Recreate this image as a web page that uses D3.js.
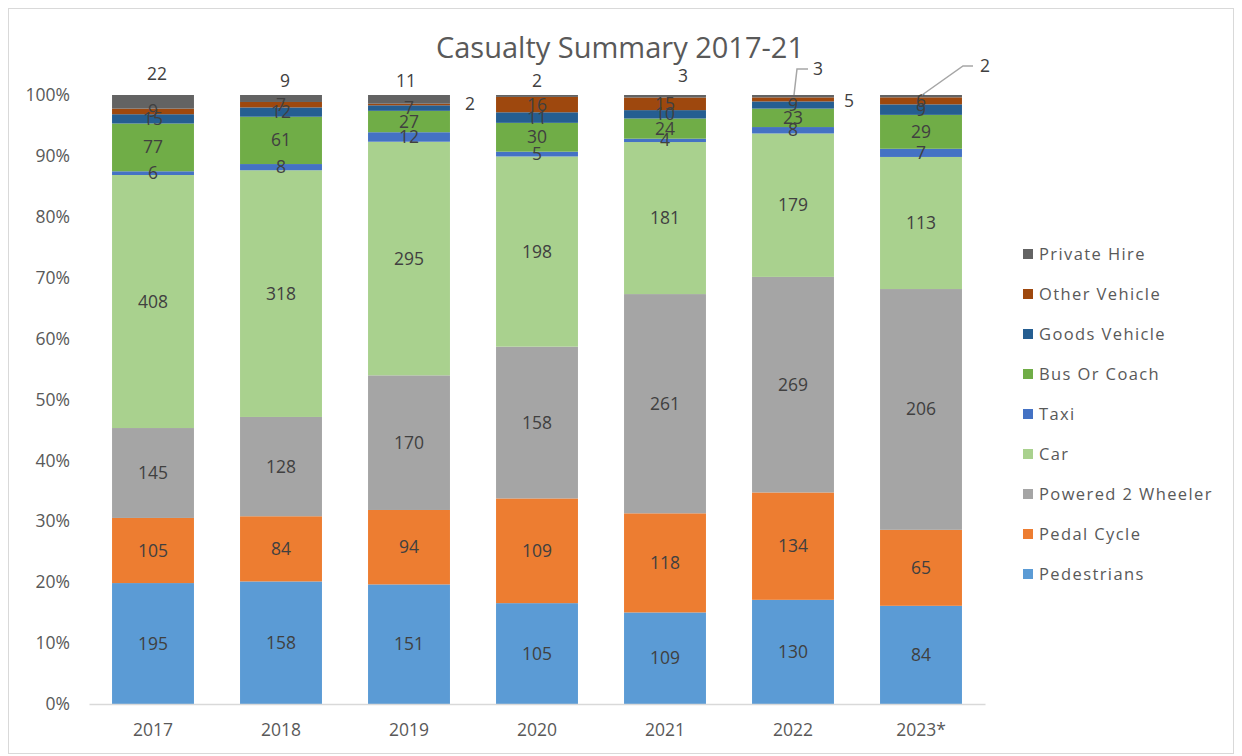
<!DOCTYPE html>
<html><head><meta charset="utf-8">
<script src="https://cdn.jsdelivr.net/npm/d3@7/dist/d3.min.js"></script>
<style>
body{margin:0;background:#fff;}
text{font-family:"Open Sans",sans-serif;}
</style></head>
<body><svg id="c" width="1242" height="756"></svg>
<script>
// ---- data ----
const years = ["2017","2018","2019","2020","2021","2022","2023*"];
const series = ["Pedestrians","Pedal Cycle","Powered 2 Wheeler","Car","Taxi","Bus Or Coach","Goods Vehicle","Other Vehicle","Private Hire"];
const pedestrians   = [195,158,151,105,109,130,84];
const pedalCycle    = [105,84,94,109,118,134,65];
const powered2      = [145,128,170,158,261,269,206];
const car           = [408,318,295,198,181,179,113];
const taxi          = [6,8,12,5,4,8,7];
const busOrCoach    = [77,61,27,30,24,23,29];
const goodsVehicle  = [15,12,7,11,10,9,9];
const otherVehicle  = [9,7,2,16,15,5,6];
const privateHire   = [22,9,11,2,3,3,2];
const yTicks = [0,0.1,0.2,0.3,0.4,0.5,0.6,0.7,0.8,0.9,1.0];

const values = [pedestrians,pedalCycle,powered2,car,taxi,busOrCoach,goodsVehicle,otherVehicle,privateHire];
const colors = ["#5B9BD5","#ED7D31","#A5A5A5","#A9D18E","#4472C4","#70AD47","#255E91","#9E480E","#636363"];

// ---- layout ----
const svg = d3.select("#c");
svg.append("rect").attr("x",8.5).attr("y",8.5).attr("width",1225).attr("height",745)
  .attr("fill","#fff").attr("stroke","#d9d9d9").attr("stroke-width",1);

const pLeft=89, pRight=985, pTop=95, pBottom=704;
const x = d3.scaleBand().domain(years).range([pLeft,pRight]).paddingInner(0.36).paddingOuter(0.18);
const y = d3.scaleLinear().domain([0,1]).range([pBottom,pTop]);

const table = years.map((yr,i)=>{const o={year:yr}; series.forEach((s,j)=>o[s]=values[j][i]); return o;});
const totals = years.map((yr,i)=>d3.sum(values,v=>v[i]));
const normTable = table.map((r,i)=>{const o={year:r.year}; series.forEach(s=>o[s]=r[s]/totals[i]); return o;});
const stack = d3.stack().keys(series)(normTable);

const g = svg.append("g");
stack.forEach((layer,j)=>{
  g.selectAll(null).data(layer).enter().append("rect")
    .attr("x",d=>x(d.data.year)).attr("width",x.bandwidth())
    .attr("y",d=>y(d[1])).attr("height",d=>y(d[0])-y(d[1]))
    .attr("fill",colors[j]);
});

// axes
const yAxis = d3.axisLeft(y).tickValues(yTicks).tickFormat(d3.format(".0%")).tickSize(0).tickPadding(19);
const ya = svg.append("g").attr("transform",`translate(${pLeft},0)`).call(yAxis);
ya.select(".domain").remove();
ya.selectAll("text").attr("fill","#595959").style("font-size","17.5px");

const xAxis = d3.axisBottom(x).tickSize(0).tickPadding(20);
const xa = svg.append("g").attr("transform",`translate(0,${pBottom})`).call(xAxis);
xa.select(".domain").attr("stroke","#d9d9d9").attr("stroke-width",1.5);
xa.selectAll("text").attr("fill","#595959").style("font-size","17.5px");

// data labels
const special = {
  "8-0":{dx:4,y:80}, "8-1":{dx:4,y:87}, "8-2":{dx:-3,y:87}, "8-3":{dx:0,y:87}, "8-4":{dx:18,y:82},
  "7-2":{dx:61,y:110}, "7-5":{dx:56,y:107},
  "8-5":{dx:25,y:75,leader:[[15,69],[4,69],[1,95]]},
  "8-6":{dx:64,y:72,leader:[[52,66],[42,66],[1,95]]}
};
const lab = svg.append("g").attr("fill","#404040").style("font-size","17.5px").attr("text-anchor","middle");
stack.forEach((layer,j)=>{
  layer.forEach((d,i)=>{
    const cx = x(d.data.year)+x.bandwidth()/2;
    const sp = special[j+"-"+i];
    let tx=cx, ty=(y(d[0])+y(d[1]))/2+6;
    if(sp){ tx=cx+sp.dx; ty=sp.y;
      if(sp.leader){
        lab.append("path").attr("d",d3.line()(sp.leader.map(p=>[cx+p[0],p[1]])))
          .attr("fill","none").attr("stroke","#a6a6a6").attr("stroke-width",1.5);
      }
    }
    lab.append("text").attr("x",tx).attr("y",ty).text(values[j][i]);
  });
});

// title
svg.append("text").attr("x",620).attr("y",58).attr("text-anchor","middle")
  .attr("fill","#595959").style("font-size","29px").text("Casualty Summary 2017-21");

// legend
const lg = svg.append("g");
const order = series.slice().reverse();
order.forEach((s,k)=>{
  const j = series.indexOf(s);
  const yy = 254 + k*40.0;
  lg.append("rect").attr("x",1023).attr("y",yy-5).attr("width",10).attr("height",10).attr("fill",colors[j]);
  lg.append("text").attr("x",1039).attr("y",yy+6).attr("fill","#595959")
    .style("font-size","16.5px").style("letter-spacing","1.4px").text(s);
});
</script></body></html>
